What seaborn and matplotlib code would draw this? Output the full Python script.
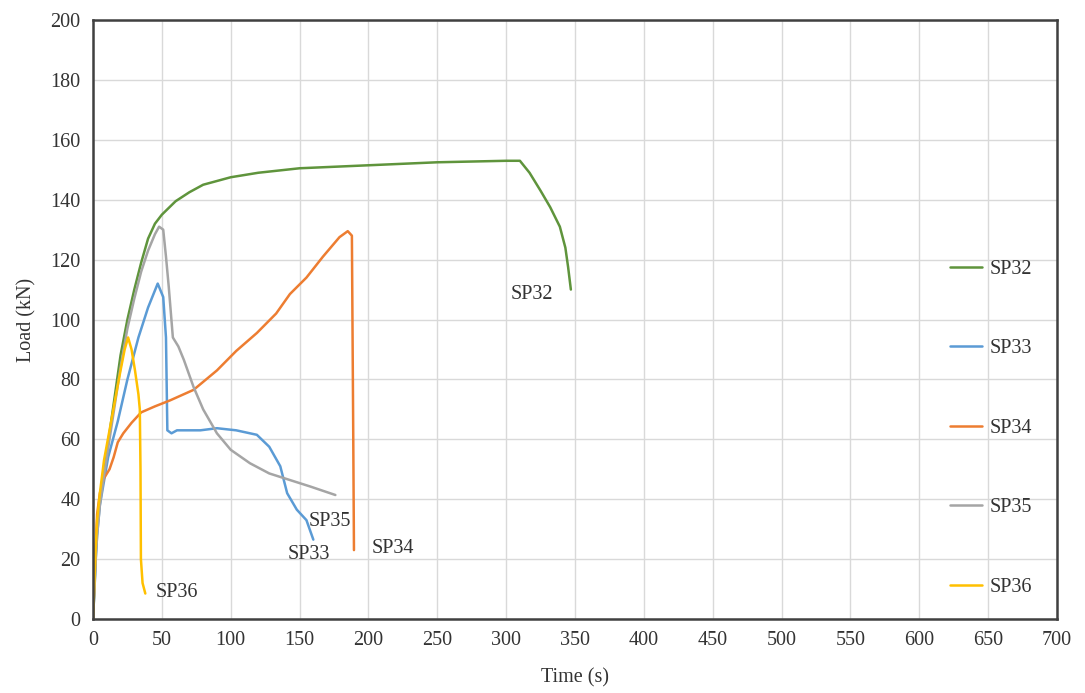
import pandas as pd
import seaborn as sns
import matplotlib.pyplot as plt

# Datos (tiempo en s, carga en kN)
sp32_t = [0, 1, 2, 3, 5, 8, 12, 16, 20, 25, 30, 35, 40, 45, 50, 60, 70, 80, 100, 120,
          150, 200, 250, 300, 310, 317, 325, 332, 339, 343, 345, 347]
sp32_load = [0, 10, 22, 30, 40, 50, 62, 75, 88, 100, 110, 119, 127, 132, 135, 139.5, 142.5,
             145, 147.5, 149, 150.5, 151.5, 152.5, 153, 153, 149, 143, 137.5, 131, 124, 117.5, 110]

sp33_t = [0, 1, 2, 3, 5, 8, 11, 18, 25, 33, 40, 47, 51, 53, 54, 57, 61, 78, 90, 104,
          119, 128, 136, 141, 148, 155, 160]
sp33_load = [0, 9, 20, 28, 38, 46, 54, 66, 80, 94, 104, 112, 107.5, 94, 63, 62, 63, 63, 63.7,
             63, 61.5, 57.5, 51, 42, 36.5, 33, 26.5]

sp34_t = [0, 1, 2, 3, 5, 8, 12, 15, 18, 22, 28, 35, 45, 56, 73, 90, 104, 119, 133, 143,
          155, 167, 179, 185, 188, 189, 189.5]
sp34_load = [0, 12, 25, 35, 42, 47, 50, 54, 59, 62, 65.5, 69, 71, 73, 76.5, 83, 89.5, 95.5,
             102, 108.5, 114, 121, 127.5, 129.5, 128, 60, 23]

sp35_t = [0, 1, 2, 3, 5, 8, 12, 16, 20, 25, 30, 35, 40, 45, 48, 51, 53, 55, 58, 62,
          66, 73, 80, 90, 100, 114, 128, 143, 158, 176]
sp35_load = [0, 9, 20, 28, 38, 48, 60, 72, 84, 97, 107, 116, 123, 128.5, 131, 130, 121, 111,
             94, 91, 86.5, 77.5, 70, 62, 56.5, 52, 48.6, 46.4, 44.2, 41.4]

sp36_t = [0, 1, 2, 3, 5, 8, 12, 16, 20, 23, 25.5, 28, 30.5, 33, 34, 34.5, 34.8, 36, 38]
sp36_load = [0, 12, 24, 33, 42, 53, 63, 73, 83, 90, 94, 90, 83, 75, 70, 50, 20, 12, 8.5]

specimens = ["SP32", "SP33", "SP34", "SP35", "SP36"]
colores = ["#5f943c", "#5b9bd5", "#ed7d31", "#a5a5a5", "#ffc000"]

# etiquetas junto a cada curva (t, carga)
etiqueta_t = [319, 157, 218, 172, 61]
etiqueta_load = [108.5, 21.5, 23.5, 32.5, 8.7]

tiempos = [sp32_t, sp33_t, sp34_t, sp35_t, sp36_t]
cargas = [sp32_load, sp33_load, sp34_load, sp35_load, sp36_load]

frames = []
for nombre, t, c in zip(specimens, tiempos, cargas):
    frames.append(pd.DataFrame({"Time": t, "Load": c, "Specimen": nombre}))
df = pd.concat(frames, ignore_index=True)

sns.set_style("white")
plt.rcParams["font.family"] = ["Liberation Serif", "DejaVu Serif"]

fig = plt.figure(figsize=(10.85, 6.93), dpi=100)
ax = fig.add_axes([0.0857, 0.1068, 0.8885, 0.8643])

sns.lineplot(data=df, x="Time", y="Load", hue="Specimen", palette=colores,
             sort=False, estimator=None, linewidth=1.8, ax=ax)

for nombre, x, y in zip(specimens, etiqueta_t, etiqueta_load):
    ax.text(x, y, nombre, fontsize=14.5, color="#333333", ha="center", va="center")

ax.set_xlim(0, 700)
ax.set_ylim(0, 200)
ax.set_xticks(range(0, 701, 50))
ax.set_yticks(range(0, 201, 20))
ax.grid(True, color="#d9d9d9", linewidth=1)
ax.tick_params(length=0, labelsize=14.5, labelcolor="#333333", pad=9)
for s in ax.spines.values():
    s.set_color("#404040")
    s.set_linewidth(1.8)

ax.set_xlabel("Time (s)", fontsize=14.5, color="#333333", labelpad=13)
ax.set_ylabel("Load (kN)", fontsize=14.5, color="#333333", labelpad=10)

ax.legend(loc="upper left", bbox_to_anchor=(0.889, 0.600), frameon=False,
          fontsize=14.5, labelspacing=3.0, handlelength=1.6, handletextpad=0.35,
          borderaxespad=0, borderpad=0, labelcolor="#333333")

fig.savefig("out.png", dpi=100)
